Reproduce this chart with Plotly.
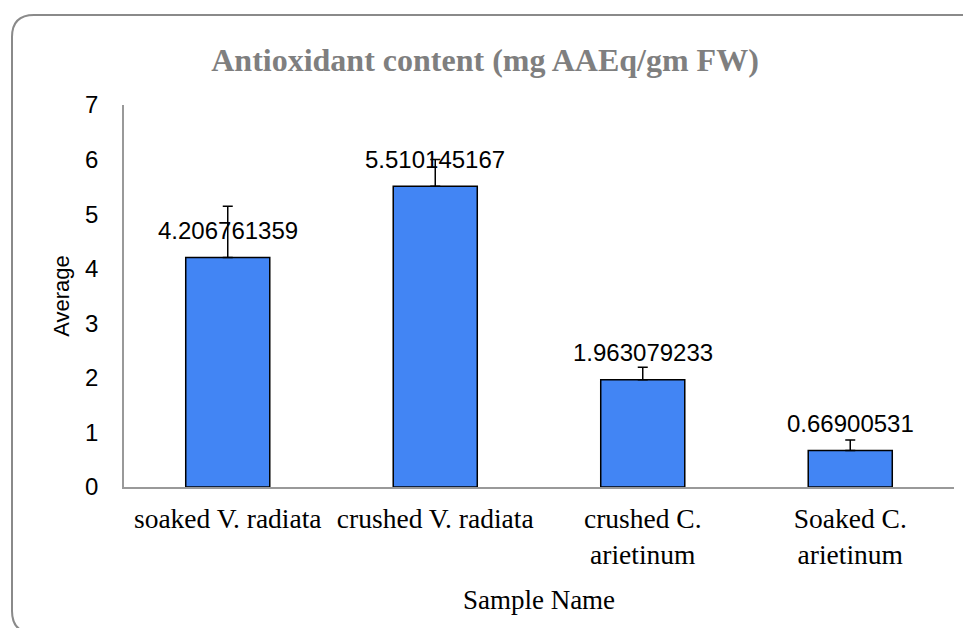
import plotly.graph_objects as go

categories = ["soaked V. radiata", "crushed V. radiata", "crushed C.<br>arietinum", "Soaked C.<br>arietinum"]
averages = [4.206761359, 5.510145167, 1.963079233, 0.66900531]
errors_plus = [0.94, 0.49, 0.23, 0.19]
y_ticks = [0, 1, 2, 3, 4, 5, 6, 7]

# page is shown with an 8px body margin; positions below are page pixels
OFF = 8
W, H = 971 - OFF, 628 - OFF
PL, PR, PT, PB = 124, 954, 105, 487          # plot area in page pixels
ML, MT = PL - OFF, PT - OFF
MR, MB = W - (PR - OFF), H - (PB - OFF)
PW, PH = PR - PL, PB - PT

def px(x):
    return (x - PL) / PW

def py(y):
    return (PB - y) / PH

fig = go.Figure()
fig.add_trace(go.Bar(
    x=categories, y=averages,
    width=0.405,
    marker=dict(color="#4285F4", line=dict(color="#000000", width=1.5)),
    error_y=dict(type="data", array=errors_plus, arrayminus=[0]*len(errors_plus),
                 symmetric=False, color="#000000", thickness=1.5, width=5),
    showlegend=False,
))

for c, v in zip(categories, averages):
    fig.add_annotation(x=c, y=v, text=f"{v:.10g}", showarrow=False,
                       yshift=27, font=dict(family="Liberation Sans, Arial", size=24, color="#000000"))

# rounded chart border
L, T, R, B, r = 12, 15, 983, 633, 22
path = (f"M {px(L)},{py(T+r)} Q {px(L)},{py(T)} {px(L+r)},{py(T)} "
        f"L {px(R-r)},{py(T)} Q {px(R)},{py(T)} {px(R)},{py(T+r)} "
        f"L {px(R)},{py(B-r)} Q {px(R)},{py(B)} {px(R-r)},{py(B)} "
        f"L {px(L+r)},{py(B)} Q {px(L)},{py(B)} {px(L)},{py(B-r)} Z")
fig.add_shape(type="path", xref="paper", yref="paper", path=path,
              line=dict(color="#8a8a8a", width=2), layer="below")

fig.update_layout(
    width=W, height=H,
    margin=dict(l=ML, r=MR, t=MT, b=MB),
    paper_bgcolor="white", plot_bgcolor="white",
    title=dict(text="<b>Antioxidant content (mg AAEq/gm FW)</b>",
               x=(485 - OFF) / W, xanchor="center", y=1 - (60 - OFF) / H, yanchor="middle",
               font=dict(family="Liberation Serif, Times New Roman", size=32, color="#7f7f7f")),
    xaxis=dict(
        showline=True, linecolor="#999999", linewidth=1.5,
        ticks="", showgrid=False,
        tickfont=dict(family="Liberation Serif, Times New Roman", size=27.5, color="#000000"),
        ticklabelstandoff=6,
        title=dict(text="Sample Name", standoff=22,
                   font=dict(family="Liberation Serif, Times New Roman", size=27, color="#000000")),
    ),
    yaxis=dict(
        range=[0, 7], tickvals=y_ticks,
        showline=True, linecolor="#999999", linewidth=1.5,
        ticks="", showgrid=False, zeroline=False,
        tickfont=dict(family="Liberation Sans, Arial", size=24, color="#000000"),
        ticklabelstandoff=19,
        title=dict(text="Average", standoff=9,
                   font=dict(family="Liberation Sans, Arial", size=22, color="#000000")),
    ),
)

fig.write_html("out.html")
